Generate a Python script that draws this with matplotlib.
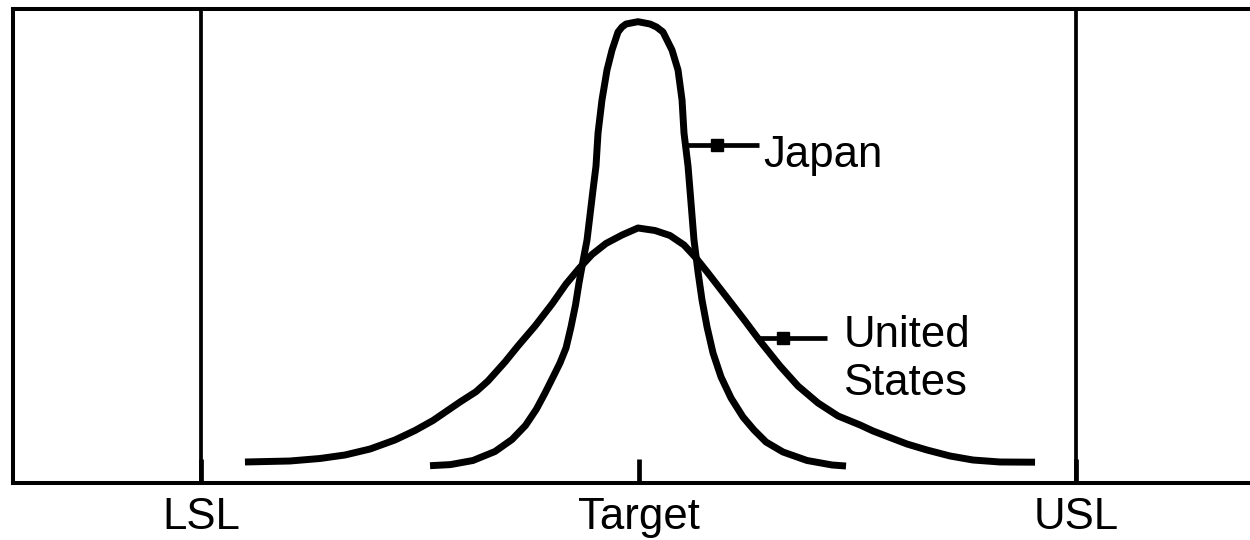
import matplotlib.pyplot as plt

# Arial-like font for all labels
plt.rcParams['font.family'] = ['Liberation Sans', 'DejaVu Sans']

# spec limits and target (x in process units)
lsl, target, usl = -6.0, 0.0, 6.0
tick_labels = ['LSL', 'Target', 'USL']

# Japan distribution: narrow, tall, centred on target
japan_x = [-2.859, -2.579, -2.270, -1.968, -1.735, -1.550, -1.399, -1.282, -1.172,
           -1.077, -0.994, -0.926, -0.864, -0.816, -0.761, -0.706, -0.624, -0.583,
           -0.555, -0.501, -0.432, -0.363, -0.281, -0.226, -0.171, -0.007, 0.158,
           0.247, 0.336, 0.459, 0.542, 0.597, 0.624, 0.679, 0.706, 0.734, 0.761,
           0.816, 0.871, 0.940, 1.022, 1.132, 1.269, 1.433, 1.584, 1.749, 1.982,
           2.311, 2.654, 2.846]
japan_y = [3.55, 3.78, 4.65, 6.55, 9.08, 12.04, 15.52, 18.90, 22.28,
           25.24, 28.41, 32.84, 37.49, 42.13, 46.78, 51.21, 61.77, 66.84,
           73.81, 80.78, 87.12, 91.34, 95.14, 96.20, 96.83, 97.32, 96.83,
           96.20, 95.14, 91.34, 87.12, 80.78, 73.81, 66.84, 61.77, 56.39, 51.21,
           44.46, 38.54, 32.84, 27.35, 22.28, 17.84, 13.83, 11.09, 8.55, 6.44,
           4.65, 3.70, 3.48]

# United States distribution: wide and flat
us_x = [-5.397, -4.781, -4.368, -4.025, -3.682, -3.340, -3.065, -2.818, -2.448,
        -2.228, -2.064, -1.831, -1.653, -1.419, -1.186, -0.994, -0.816, -0.638,
        -0.446, -0.226, -0.007, 0.226, 0.432, 0.624, 0.789, 0.953, 1.186, 1.461,
        1.666, 1.941, 2.187, 2.462, 2.736, 3.038, 3.216, 3.449, 3.682, 3.957,
        4.272, 4.587, 4.958, 5.438]
us_y = [4.33, 4.54, 5.07, 5.81, 7.07, 8.98, 10.98, 13.10, 17.00,
        19.18, 21.44, 25.45, 28.83, 33.05, 37.70, 41.92, 45.20, 48.15,
        50.48, 52.27, 53.75, 53.22, 52.16, 50.16, 47.41, 44.24, 39.60, 34.11,
        29.88, 24.60, 20.38, 16.79, 14.05, 12.15, 10.88, 9.50, 8.13, 6.86,
        5.60, 4.75, 4.33, 4.29]

fig = plt.figure(figsize=(12.5, 5.4), dpi=100)
ax = fig.add_axes([0.01064, 0.10648, 0.98936, 0.87685])

curve_style = dict(color='black', lw=5.0, solid_joinstyle='round', solid_capstyle='butt')
ax.plot(japan_x, japan_y, **curve_style)
ax.plot(us_x, us_y, **curve_style)

# spec limit lines
ax.axvline(lsl, color='black', lw=2.7)
ax.axvline(usl, color='black', lw=2.7)

ax.set_xlim(-8.574, 8.386)
ax.set_ylim(0, 100)
ax.set_xticks([lsl, target, usl], tick_labels, fontsize=31.5)
ax.tick_params(axis='x', direction='in', length=17.3, width=3.4, pad=10.5)
ax.set_yticks([])
ax.spines['right'].set_visible(False)
for side in ['left', 'top', 'bottom']:
    ax.spines[side].set_linewidth(2.9)

# pointer lines with a small square knot
ax.plot([0.661, 1.653], [71.28, 71.28], color='black', lw=3.4, solid_capstyle='butt')
ax.plot([1.07], [71.28], 's', color='black', ms=8)
ax.text(1.712, 66.69, 'Japan', fontsize=31.5, ha='left', va='baseline')

ax.plot([1.611, 2.581], [30.45, 30.45], color='black', lw=3.4, solid_capstyle='butt')
ax.plot([1.986], [30.45], 's', color='black', ms=8)
ax.text(2.809, 28.68, 'United', fontsize=31.5, ha='left', va='baseline')
ax.text(2.809, 18.48, 'States', fontsize=31.5, ha='left', va='baseline')

fig.savefig('out.png', dpi=100)
